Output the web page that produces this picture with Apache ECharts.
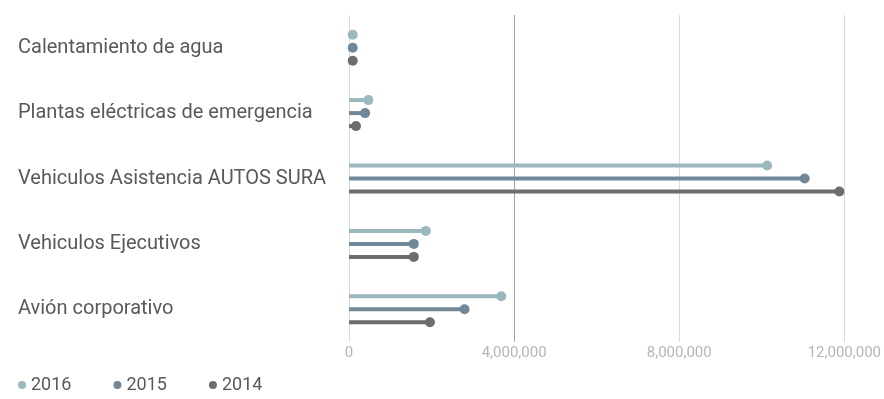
<!DOCTYPE html>
<html>
<head>
<meta charset="utf-8">
<script src="https://cdn.jsdelivr.net/npm/echarts@6/dist/echarts.min.js"></script>
<style>
html,body{margin:0;padding:0;background:#fff;}
#chart{width:884px;height:399px;}
</style>
</head>
<body>
<div id="chart"></div>
<script>
const categories = [
  'Calentamiento de agua',
  'Plantas eléctricas de emergencia',
  'Vehiculos Asistencia AUTOS SURA',
  'Vehiculos Ejecutivos',
  'Avión corporativo'
];
const seriesNames = ['2016', '2015', '2014'];
const values2016 = [90000, 470000, 10130000, 1860000, 3690000];
const values2015 = [90000, 390000, 11040000, 1570000, 2800000];
const values2014 = [90000, 170000, 11880000, 1570000, 1960000];
const xTicks = [0, 4000000, 8000000, 12000000];

const colors = ['#9bb8be', '#728797', '#6b6d6e'];
const offsets = [-13, 0, 13];
const allValues = [values2016, values2015, values2014];

function makeRender(off, color) {
  return function (params, api) {
    const v = api.value(0);
    const c = api.value(1);
    const p0 = api.coord([0, c]);
    const p1 = api.coord([v, c]);
    const y = p0[1] + off;
    return {
      type: 'group',
      children: [
        { type: 'line', shape: { x1: p0[0], y1: y, x2: p1[0], y2: y },
          style: { stroke: color, lineWidth: 4 } },
        { type: 'circle', shape: { cx: p1[0], cy: y, r: 5 },
          style: { fill: color } }
      ]
    };
  };
}

const chart = echarts.init(document.getElementById('chart'), null, { renderer: 'canvas' });
const font = 'Roboto, "DejaVu Sans", sans-serif';
chart.setOption({
  animation: false,
  textStyle: { fontFamily: font },
  grid: { left: 349, right: 33, top: 15, bottom: 57, containLabel: false },
  legend: {
    left: 18, top: 376, padding: 0,
    icon: 'circle', itemWidth: 8, itemHeight: 8, itemGap: 42,
    textStyle: { fontSize: 18, color: '#595959', fontFamily: font },
    data: seriesNames
  },
  xAxis: {
    type: 'value',
    min: xTicks[0], max: xTicks[xTicks.length - 1], interval: xTicks[1] - xTicks[0],
    axisLine: { show: false }, axisTick: { show: false },
    axisLabel: {
      color: '#b5b5b5', fontSize: 15, margin: 4, fontFamily: font,
      formatter: v => v.toLocaleString('en-US')
    },
    splitLine: { show: true, lineStyle: { color: ['#d9d9d9', '#a2a4aa', '#d9d9d9', '#d9d9d9'], width: 1 } }
  },
  yAxis: {
    type: 'category', data: categories, inverse: true,
    axisLine: { show: false }, axisTick: { show: false },
    axisLabel: { align: 'left', margin: 331, fontSize: 20, color: '#595959', fontFamily: font }
  },
  series: seriesNames.map((name, i) => ({
    name: name,
    type: 'custom',
    itemStyle: { color: colors[i] },
    encode: { x: 0, y: 1 },
    data: allValues[i].map((v, j) => [v, j]),
    renderItem: makeRender(offsets[i], colors[i])
  }))
});
</script>
</body>
</html>
